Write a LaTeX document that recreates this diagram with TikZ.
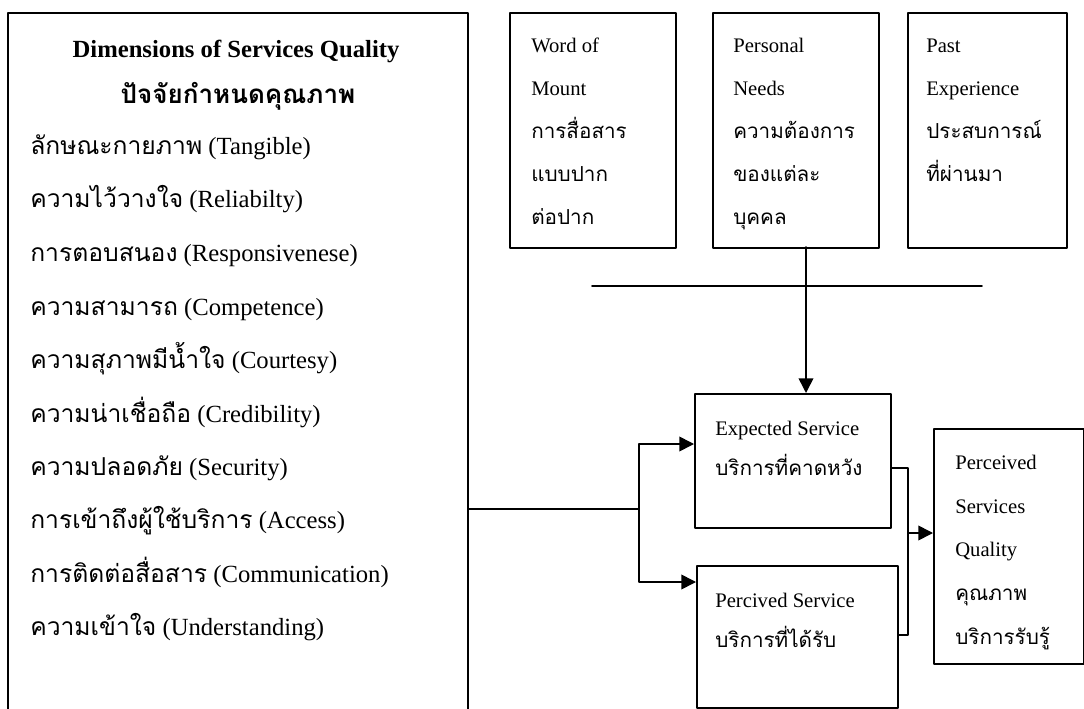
\documentclass[tikz,border=0pt]{standalone}
\usepackage{fontspec}
\setmainfont{Liberation Serif}
\newfontfamily\thaifont[Script=Thai]{Loma}
\newcommand{\thtxt}[1]{{\thaifont #1}}
\usetikzlibrary{arrows.meta}

\begin{document}
\begin{tikzpicture}[x=0.75pt,y=-0.75pt,line cap=round,line join=round,
	box/.style={draw,line width=1.2pt,rectangle,inner sep=0pt,anchor=north west},
	big/.style={anchor=base west,inner sep=0pt,font=\fontsize{18.5}{20}\selectfont},
	small/.style={anchor=base west,inner sep=0pt,font=\fontsize{15.5}{18}\selectfont},
	arr/.style={-{Triangle[length=11pt,width=11pt]},line width=1.2pt}]
		\clip (0,0) rectangle (1084,709);
		\fill[white] (0,0) rectangle (1084,709);
		
		% boxes
		\node[box,minimum width=345pt,minimum height=540pt] (dims) at (7,12) {};
		\node[box,minimum width=124.5pt,minimum height=176.25pt] (wom) at (509,12) {};
		\node[box,minimum width=124.5pt,minimum height=176.25pt] (pn) at (712,12) {};
		\node[box,minimum width=119.25pt,minimum height=176.25pt] (pe) at (907,12) {};
		\node[box,minimum width=147pt,minimum height=100.5pt] (es) at (694,393) {};
		\node[box,minimum width=150.75pt,minimum height=106.5pt] (ps) at (696,565) {};
		\node[box,minimum width=112.5pt,minimum height=176.25pt] (psq) at (933,428) {};
		
		% dimensions of services quality
		\node[big,anchor=base,font=\fontsize{18.5}{20}\selectfont\bfseries] (dimT) at (236,58) {Dimensions of Services Quality};
		\node[big,anchor=base,font=\fontsize{19.5}{20}\selectfont\bfseries] (dimH) at (238,104) {\thtxt{ปัจจัยกำหนดคุณภาพ}};
		\node[big] (d1) at (30,155) {\thtxt{ลักษณะกายภาพ} (Tangible)};
		\node[big] (d2) at (30,208) {\thtxt{ความไว้วางใจ} (Reliabilty)};
		\node[big] (d3) at (30,262) {\thtxt{การตอบสนอง} (Responsivenese)};
		\node[big] (d4) at (30,315) {\thtxt{ความสามารถ} (Competence)};
		\node[big] (d5) at (30,368) {\thtxt{ความสุภาพมีน้ำใจ} (Courtesy)};
		\node[big] (d6) at (30,422) {\thtxt{ความน่าเชื่อถือ} (Credibility)};
		\node[big] (d7) at (30,475) {\thtxt{ความปลอดภัย} (Security)};
		\node[big] (d8) at (30,528) {\thtxt{การเข้าถึงผู้ใช้บริการ} (Access)};
		\node[big] (d9) at (30,582) {\thtxt{การติดต่อสื่อสาร} (Communication)};
		\node[big] (d10) at (30,635) {\thtxt{ความเข้าใจ} (Understanding)};
		
		% word of mount
		\node[small] (w1) at (531,53) {Word of};
		\node[small] (w2) at (531,96) {Mount};
		\node[small] (w3) at (531,139) {\thtxt{การสื่อสาร}};
		\node[small] (w4) at (531,182) {\thtxt{แบบปาก}};
		\node[small] (w5) at (531,225) {\thtxt{ต่อปาก}};
		
		% personal needs
		\node[small] (p1) at (733,53) {Personal};
		\node[small] (p2) at (733,96) {Needs};
		\node[small] (p3) at (733,139) {\thtxt{ความต้องการ}};
		\node[small] (p4) at (733,182) {\thtxt{ของแต่ละ}};
		\node[small] (p5) at (733,225) {\thtxt{บุคคล}};
		
		% past experience
		\node[small] (x1) at (926,53) {Past};
		\node[small] (x2) at (926,96) {Experience};
		\node[small] (x3) at (926,139) {\thtxt{ประสบการณ์}};
		\node[small] (x4) at (926,182) {\thtxt{ที่ผ่านมา}};
		
		% expected / percived service
		\node[small] (e1) at (715,435) {Expected Service};
		\node[small] (e2) at (715,475) {\thtxt{บริการที่คาดหวัง}};
		\node[small] (r1) at (715,607) {Percived Service};
		\node[small] (r2) at (715,647) {\thtxt{บริการที่ได้รับ}};
		
		% perceived services quality
		\node[small] (q1) at (955,469) {Perceived};
		\node[small] (q2) at (955,513) {Services};
		\node[small] (q3) at (955,556) {Quality};
		\node[small] (q4) at (955,600) {\thtxt{คุณภาพ}};
		\node[small] (q5) at (955,644) {\thtxt{บริการรับรู้}};
		
		% connectors
		\coordinate (barL) at (592,286);
		\coordinate (barR) at (982,286);
		\draw[line width=1.2pt] (barL) -- (barR);
		
		\coordinate (drop) at (806,247);
		\draw[arr] (drop) -- (drop |- es.north);
		
		\coordinate (fork) at (639,509);
		\coordinate (inA) at (639,444);
		\coordinate (inB) at (639,582);
		\draw[line width=1.2pt] (dims.east |- fork) -- (fork);
		\draw[arr] (fork) -- (inA) -- (inA -| es.west);
		\draw[arr] (fork) -- (inB) -- (inB -| ps.west);
		
		\coordinate (joinT) at (908,468);
		\coordinate (joinB) at (908,635);
		\coordinate (joinM) at (908,533);
		\draw[line width=1.2pt] (es.east |- joinT) -- (joinT) -- (joinB) -- (ps.east |- joinB);
		\draw[arr] (joinM) -- (joinM -| psq.west);
	\end{tikzpicture}
\end{document}
